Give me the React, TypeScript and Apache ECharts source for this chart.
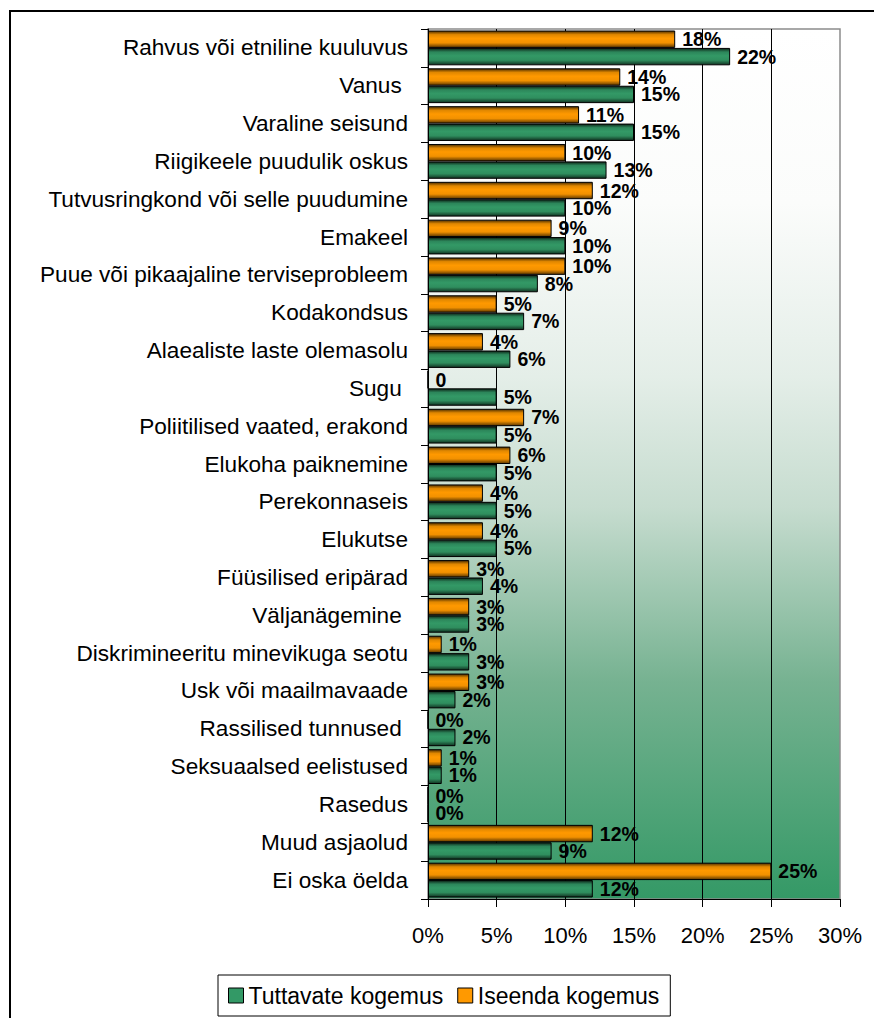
import React, { useEffect, useRef } from "react";
import * as echarts from "echarts";

const categories = [
  "Rahvus või etniline kuuluvus",
  "Vanus ",
  "Varaline seisund",
  "Riigikeele puudulik oskus",
  "Tutvusringkond või selle puudumine",
  "Emakeel",
  "Puue või pikaajaline terviseprobleem",
  "Kodakondsus",
  "Alaealiste laste olemasolu",
  "Sugu ",
  "Poliitilised vaated, erakond",
  "Elukoha paiknemine",
  "Perekonnaseis",
  "Elukutse",
  "Füüsilised eripärad",
  "Väljanägemine ",
  "Diskrimineeritu minevikuga seotu",
  "Usk või maailmavaade",
  "Rassilised tunnused ",
  "Seksuaalsed eelistused",
  "Rasedus",
  "Muud asjaolud",
  "Ei oska öelda",
];

const tuttavate = [22, 15, 15, 13, 10, 10, 8, 7, 6, 5, 5, 5, 5, 5, 4, 3, 3, 2, 2, 1, 0, 9, 12];
const iseenda = [18, 14, 11, 10, 12, 9, 10, 5, 4, 0, 7, 6, 4, 4, 3, 3, 1, 3, 0, 1, 0, 12, 25];

// categories whose "Iseenda" label is shown without the percent sign
const iseendaPlainLabels = ["Sugu "];

const seriesNames = ["Tuttavate kogemus", "Iseenda kogemus"];
const xMin = 0;
const xMax = 30;
const xStep = 5;

const FONT = "'Liberation Sans', Arial, Helvetica, sans-serif";

const orangeGrad = {
  type: "linear", x: 0, y: 0, x2: 0, y2: 1,
  colorStops: [
    { offset: 0, color: "#4d2e00" },
    { offset: 0.22, color: "#e08700" },
    { offset: 0.45, color: "#ff9900" },
    { offset: 0.72, color: "#f29100" },
    { offset: 1, color: "#5c3700" },
  ],
};
const greenGrad = {
  type: "linear", x: 0, y: 0, x2: 0, y2: 1,
  colorStops: [
    { offset: 0, color: "#0d2619" },
    { offset: 0.22, color: "#2c865a" },
    { offset: 0.45, color: "#339966" },
    { offset: 0.72, color: "#2f8e5e" },
    { offset: 1, color: "#113322" },
  ],
};
const bgGrad = {
  type: "linear", x: 0, y: 0, x2: 0, y2: 1,
  colorStops: [
    { offset: 0, color: "#ffffff" },
    { offset: 0.2, color: "#fbfcfb" },
    { offset: 0.4, color: "#e4eee8" },
    { offset: 0.55, color: "#c6dccf" },
    { offset: 0.75, color: "#76b291" },
    { offset: 1, color: "#349966" },
  ],
};

export default function App() {
  const ref = useRef<HTMLDivElement>(null);
  useEffect(() => {
    if (!ref.current) return;
    const chart = echarts.init(ref.current, null, { renderer: "svg" });
    const labelCommon = {
      show: true,
      position: "right",
      distance: 7,
      color: "#000",
      fontFamily: FONT,
      fontWeight: "bold",
      fontSize: 19.5,
    };
    chart.setOption({
      animation: false,
      textStyle: { fontFamily: FONT },
      graphic: [
        {
          type: "rect",
          z: -10,
          shape: { x: 10, y: 11, width: 900, height: 1100 },
          style: { fill: "none", stroke: "#000", lineWidth: 2 },
        },
      ],
      grid: {
        left: 428,
        top: 29,
        width: 412,
        height: 870,
        show: true,
        backgroundColor: bgGrad,
        borderColor: "#8c8c8c",
        borderWidth: 1.5,
      },
      legend: {
        left: 218,
        top: 975,
        orient: "horizontal",
        itemGap: 14,
        itemWidth: 15,
        itemHeight: 15,
        padding: [9, 11, 9, 10],
        borderColor: "#000",
        borderWidth: 1,
        backgroundColor: "#fff",
        textStyle: { fontSize: 23, color: "#000", fontFamily: FONT },
        data: [
          { name: seriesNames[0], icon: "rect", itemStyle: { color: "#339966", borderColor: "#000", borderWidth: 1 } },
          { name: seriesNames[1], icon: "rect", itemStyle: { color: "#ff9900", borderColor: "#000", borderWidth: 1 } },
        ],
      },
      xAxis: {
        type: "value",
        min: xMin,
        max: xMax,
        interval: xStep,
        axisLine: { show: true, lineStyle: { color: "#000", width: 1 } },
        axisTick: { show: true, length: 8, lineStyle: { color: "#000" } },
        axisLabel: {
          formatter: "{value}%",
          fontSize: 22,
          color: "#000",
          margin: 25,
          fontFamily: FONT,
        },
        splitLine: {
          show: true,
          showMinLine: false,
          showMaxLine: false,
          lineStyle: { color: "#000", width: 1 },
        },
      },
      yAxis: {
        type: "category",
        inverse: true,
        data: categories,
        axisLine: { show: true, lineStyle: { color: "#000", width: 1 } },
        axisTick: { show: true, length: 7, alignWithLabel: false, lineStyle: { color: "#000" } },
        axisLabel: { fontSize: 22.6, color: "#000", margin: 20, fontFamily: FONT },
        splitLine: { show: false },
      },
      series: [
        {
          name: seriesNames[1],
          type: "bar",
          data: iseenda,
          barGap: "0%",
          barCategoryGap: "8%",
          itemStyle: { color: orangeGrad, borderColor: "#000", borderWidth: 1 },
          label: {
            ...labelCommon,
            formatter: (p: any) =>
              iseendaPlainLabels.includes(p.name) ? `${p.value}` : `${p.value}%`,
          },
          z: 3,
        },
        {
          name: seriesNames[0],
          type: "bar",
          data: tuttavate,
          barGap: "0%",
          barCategoryGap: "8%",
          itemStyle: { color: greenGrad, borderColor: "#000", borderWidth: 1 },
          label: { ...labelCommon, formatter: "{c}%" },
          z: 3,
        },
      ],
    });
    return () => chart.dispose();
  }, []);
  return (
    <div
      ref={ref}
      style={{ position: "absolute", left: 0, top: 0, width: 874, height: 1018, background: "#fff" }}
    />
  );
}
